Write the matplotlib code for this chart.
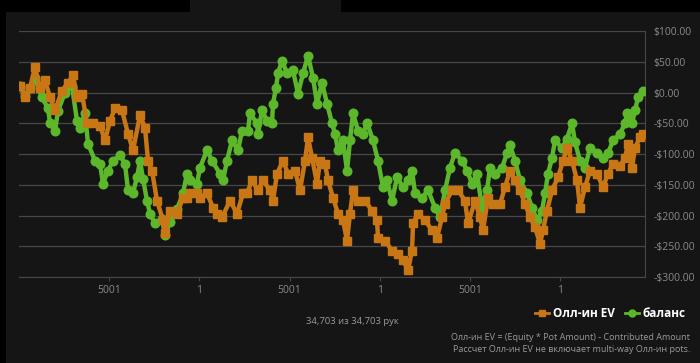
import matplotlib.pyplot as plt
from matplotlib.patches import Rectangle

plt.rcParams['font.family'] = ['Open Sans', 'DejaVu Sans']

# hands / dollars
ev_hands = [55, 333, 610, 887, 1164, 1441, 1719, 1996, 2384, 2717, 2994, 3215, 3493, 3770,
            4103, 4491, 4768, 5045, 5322, 5710, 6043, 6320, 6708, 6985, 7152, 7374, 7651,
            7983, 8094, 8371, 8760, 9092, 9314, 9480, 9868, 10035, 10423, 10755, 10977,
            11254, 11698, 12086, 12419, 12640, 12918, 13250, 13527, 13915, 14082, 14304,
            14636, 14913, 15301, 15578, 15856, 16022, 16244, 16521, 16687, 16964, 17131,
            17408, 17685, 17963, 18184, 18350, 18517, 18794, 19182, 19570, 19847, 19903,
            20291, 20679, 21012, 21289, 21566, 21788, 21844, 22121, 22509, 22897, 23174,
            23451, 23618, 24006, 24338, 24726, 24893, 25281, 25558, 25724, 26001, 26279,
            26667, 26944, 27221, 27498, 27775, 28053, 28330, 28607, 28884, 29050, 29272,
            29549, 29882, 30159, 30381, 30658, 30935, 31101, 31378, 31656, 32044, 32377,
            32654, 32931, 33319, 33596, 33762, 33984, 34150, 34427, 34594]
ev_values = [11, -8, 8, 41, 8, 20, -8, -29, 3, 16, 28, -8, -2, -50,
             -50, -54, -78, -46, -26, -29, -67, -94, -37, -57, -111, -127, -176,
             -208, -229, -192, -197, -171, -171, -164, -164, -171, -164, -187, -197,
             -203, -176, -197, -164, -164, -143, -159, -143, -159, -176, -132,
             -111, -132, -127, -159, -111, -73, -106, -148, -111, -116, -143,
             -171, -197, -208, -241, -197, -159, -176, -176, -192, -208, -236,
             -241, -257, -262, -273, -289, -257, -213, -197, -208, -224, -236,
             -203, -181, -159, -159, -176, -213, -176, -203, -224, -171, -181,
             -181, -154, -127, -143, -159, -181, -203, -219, -246, -224, -192,
             -159, -138, -111, -90, -111, -143, -187, -154, -127, -132, -154,
             -132, -116, -119, -106, -83, -122, -90, -73, -67]

bal_hands = [55, 333, 610, 887, 1275, 1608, 1719, 1996, 2162, 2550, 2940, 3215, 3381, 3659,
             3825, 4214, 4491, 4657, 4934, 5211, 5599, 5876, 6043, 6320, 6542, 6708, 6874,
             7096, 7263, 7540, 7928, 8094, 8371, 8760, 9092, 9314, 9480, 9868, 10035,
             10423, 10700, 11143, 11309, 11531, 11809, 12141, 12363, 12696, 12807, 13195,
             13250, 13472, 13749, 14026, 14082, 14248, 14359, 14581, 14858, 15190, 15468,
             15745, 16022, 16299, 16521, 16798, 17075, 17352, 17519, 17685, 17963, 18184,
             18350, 18517, 18794, 19071, 19293, 19626, 19903, 20180, 20402, 20679, 20957,
             21289, 21566, 21788, 21955, 22343, 22675, 23063, 23340, 23618, 23895, 24172,
             24560, 24837, 25115, 25392, 25669, 25946, 26112, 26389, 26778, 27055, 27221,
             27498, 27775, 28163, 28441, 28718, 28995, 29161, 29328, 29549, 29716, 30104,
             30381, 30658, 30824, 31101, 31378, 31656, 32044, 32377, 32654, 32931, 33319,
             33596, 33707, 33984, 34150, 34317, 34594]
bal_values = [11, -5, 8, 23, -8, -26, -49, -62, -30, 0, 10, -46, -57, -34,
              -83, -111, -116, -148, -127, -111, -102, -116, -159, -163, -138, -111, -140,
              -176, -197, -213, -205, -232, -210, -190, -164, -132, -143, -148, -122,
              -94, -111, -132, -143, -111, -78, -94, -62, -62, -34, -50,
              -67, -29, -46, -50, -18, 8, 31, 52, 31, 36, -2,
              31, 60, 24, -18, 16, -18, -50, -67, -94, -78, -127,
              -78, -34, -62, -67, -49, -78, -111, -154, -143, -176, -138,
              -154, -143, -127, -164, -171, -159, -187, -203, -159, -122, -98,
              -111, -127, -148, -132, -187, -159, -122, -132, -122, -99, -86,
              -111, -143, -164, -187, -208, -192, -164, -132, -106, -78, -90,
              -75, -50, -81, -111, -122, -90, -98, -106, -99, -78, -67,
              -50, -33, -50, -29, -8, 3]

total_hands = 34703
x_ticks = [5001, 10001, 15001, 20001, 25001, 30001]
x_labels = ['5001', '1', '5001', '1', '5001', '1']
y_ticks = [-300, -250, -200, -150, -100, -50, 0, 50, 100]

orange = '#c97614'
green = '#5cb82a'
panel = '#151515'

fig = plt.figure(figsize=(7, 3.63), dpi=100)
fig.patch.set_facecolor('black')
fig.patches.append(Rectangle((6 / 700, 0), 1, 351 / 363, transform=fig.transFigure,
                             facecolor=panel, edgecolor='none', zorder=-10))
fig.patches.append(Rectangle((190 / 700, 0.9), 151 / 700, 0.2, transform=fig.transFigure,
                             facecolor=panel, edgecolor='none', zorder=-10))

ax = fig.add_axes([19 / 700, 86 / 363, 626 / 700, 246 / 363])
ax.set_facecolor(panel)
ax.patch.set_alpha(0)

l_bal, = ax.plot(bal_hands, bal_values, color=green, lw=3.2, marker='o', ms=6.2,
                 mec=green, solid_joinstyle='round', zorder=3, label='баланс')
l_ev, = ax.plot(ev_hands, ev_values, color=orange, lw=3.2, marker='s', ms=5.6,
                mec=orange, solid_joinstyle='round', zorder=4, label='Олл-ин EV')

ax.set_xlim(0, total_hands)
ax.set_ylim(-300, 100)
ax.set_yticks(y_ticks)
ax.set_yticklabels([('-$%.2f' % -v) if v < 0 else ('$%.2f' % v) for v in y_ticks])
ax.yaxis.tick_right()
ax.set_xticks(x_ticks)
ax.set_xticklabels(x_labels)
ax.grid(axis='y', color='#474747', lw=0.9)
ax.set_axisbelow(True)
for s in ['top', 'left']:
    ax.spines[s].set_visible(False)
ax.spines['right'].set_color('#474747')
ax.spines['bottom'].set_color('#474747')
ax.tick_params(axis='y', length=0, pad=6, labelsize=7.5, labelcolor='#8a8a8a')
ax.tick_params(axis='x', length=3, color='#474747', pad=3, labelsize=7.5,
               labelcolor='#8a8a8a')

leg = fig.legend(handles=[l_ev, l_bal], loc='center right', bbox_to_anchor=(0.995, 0.137),
                 ncol=2, frameon=False, handlelength=1.2, handletextpad=0.3,
                 columnspacing=0.9, prop={'weight': 'bold', 'size': 8.5})
for h in leg.legend_handles:
    h.set_linewidth(2)
    h.set_markersize(5)
for t in leg.get_texts():
    t.set_color('white')

fig.text(352 / 700, 1 - 322 / 363, '34,703 из 34,703 рук', ha='center', va='center',
         color='#9a9a9a', fontsize=6.8)
fig.text(690 / 700, 1 - 338 / 363, 'Олл-ин EV = (Equity * Pot Amount) - Contributed Amount',
         ha='right', va='center', color='#9a9a9a', fontsize=6.5)
fig.text(690 / 700, 1 - 350 / 363, 'Рассчет Олл-ин EV не включает multi-way Олл-ин pots.',
         ha='right', va='center', color='#9a9a9a', fontsize=6.5)

fig.savefig('out.png', dpi=100, facecolor=fig.get_facecolor())
